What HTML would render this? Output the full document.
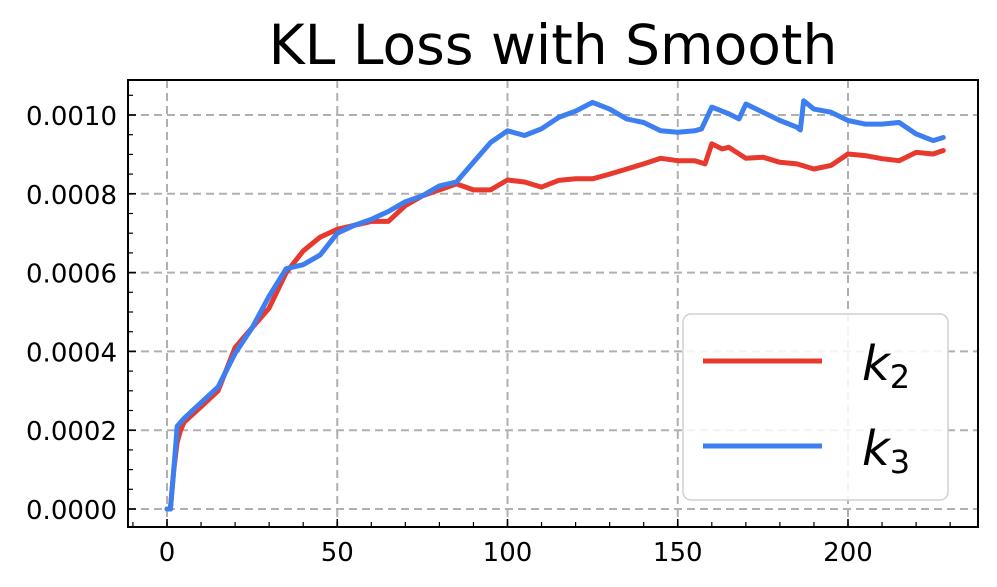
<!DOCTYPE html>
<html><head><meta charset="utf-8"><style>
body{margin:0;background:#fff;}
svg{display:block;font-family:"DejaVu Sans","Liberation Sans",sans-serif;}
</style></head><body>
<svg id="chart" width="997" height="587">
<text x="553" y="64" text-anchor="middle" font-size="55">KL Loss with Smooth</text>
<g id="grid"></g>
<g id="series"></g>
<rect x="128" y="80" width="850" height="447" fill="none" stroke="#000" stroke-width="2"/>
<g id="axes"></g>
<g>
<rect x="683" y="314" width="265" height="186" rx="8" fill="#fff" fill-opacity="0.85" stroke="#d0d0d0" stroke-width="1.5"/>
<line x1="703" y1="361" x2="822" y2="361" stroke="#e8392e" stroke-width="5"/>
<text x="862" y="380" font-size="48" font-style="italic">k<tspan font-style="normal" font-size="32" dy="8">2</tspan></text>
<line x1="703" y1="446" x2="822" y2="446" stroke="#3d7ef0" stroke-width="5"/>
<text x="862" y="465" font-size="48" font-style="italic">k<tspan font-style="normal" font-size="32" dy="8">3</tspan></text>
</g>
</svg>
<script>
const xTicks=[0,50,100,150,200];
const yTicks=[0,0.0002,0.0004,0.0006,0.0008,0.0010];
const yTickLabels=["0.0000","0.0002","0.0004","0.0006","0.0008","0.0010"];
const k2X=[0,1,2,3,4,5,10,15,20,25,30,35,40,45,50,55,60,65,70,75,80,85,90,95,100,105,110,115,120,125,130,135,140,145,150,155,158,160,163,165,170,175,180,185,190,195,200,205,210,215,220,225,228];
const k2Y=[0,0,1.0,1.7,2.0,2.2,2.6,3.0,4.1,4.6,5.1,6.0,6.55,6.9,7.1,7.2,7.3,7.3,7.7,7.95,8.1,8.25,8.1,8.1,8.35,8.3,8.17,8.34,8.38,8.38,8.5,8.63,8.76,8.9,8.84,8.84,8.76,9.27,9.14,9.18,8.9,8.93,8.8,8.76,8.63,8.72,9.01,8.97,8.89,8.84,9.05,9.01,9.1];
const k3X=[0,1,2,3,5,10,15,20,25,30,35,40,45,50,55,60,65,70,75,80,85,90,95,100,105,110,115,120,125,130,135,140,145,150,155,157,160,165,168,170,175,180,185,186,187,190,195,200,205,210,215,220,225,228];
const k3Y=[0,0,1.0,2.1,2.3,2.7,3.1,3.95,4.6,5.4,6.1,6.2,6.45,7.0,7.2,7.35,7.55,7.8,7.95,8.2,8.3,8.8,9.3,9.6,9.48,9.65,9.94,10.1,10.32,10.15,9.9,9.81,9.6,9.56,9.6,9.65,10.2,10.03,9.9,10.28,10.07,9.86,9.69,9.62,10.36,10.15,10.07,9.86,9.77,9.77,9.81,9.52,9.35,9.43];
const NS="http://www.w3.org/2000/svg";
function sx(v){return 167+v*3.405;}
function sy(v){return 509-v*394000;}
function mk(tag,attrs,parent){const e=document.createElementNS(NS,tag);for(const k in attrs)e.setAttribute(k,attrs[k]);parent.appendChild(e);return e;}
const grid=document.getElementById('grid'),axes=document.getElementById('axes'),series=document.getElementById('series');
xTicks.forEach((t,i)=>{
 const g=mk('line',{x1:sx(t),x2:sx(t),y1:80,y2:527,stroke:'#b0b0b0','stroke-width':2,'stroke-dasharray':'8,5'},grid);
 
 
 const tk=mk('line',{x1:sx(t),x2:sx(t),y1:527,y2:519,stroke:'#000','stroke-width':1.6},axes);
 
 
 const lb=mk('text',{x:sx(t),y:561,'text-anchor':'middle','font-size':26},axes);
 lb.textContent=String(t);
 
 
});
for(let v=-10;v<=240;v+=10){if(v%50===0)continue;const x=sx(v);if(x<129||x>977)continue;
 const m=mk('line',{x1:x,x2:x,y1:527,y2:522,stroke:'#000','stroke-width':1.2},axes);
 
 }
yTicks.forEach((t,i)=>{
 const g=mk('line',{x1:128,x2:978,y1:sy(t),y2:sy(t),stroke:'#b0b0b0','stroke-width':2,'stroke-dasharray':'8,5'},grid);
 
 
 const tk=mk('line',{x1:128,x2:136,y1:sy(t),y2:sy(t),stroke:'#000','stroke-width':1.6},axes);
 
 
 const lb=mk('text',{x:117,y:sy(t)+10,'text-anchor':'end','font-size':26},axes);
 lb.textContent=yTickLabels[i];
 
 
});
for(let k=-1;k<=22;k++){if(k%4===0)continue;const y=sy(k*0.00005);if(y<81||y>526)continue;
 const m=mk('line',{x1:128,x2:133,y1:y,y2:y,stroke:'#000','stroke-width':1.2},axes);
 
 }
function drawLine(xs,ys,color,name){
 const d=xs.map((x,i)=>(i?'L':'M')+sx(x).toFixed(1)+','+sy(ys[i]*1e-4).toFixed(1)).join(' ');
 const p=mk('path',{d:d,fill:'none',stroke:color,'stroke-width':5,'stroke-linejoin':'round','stroke-linecap':'round'},series);
 
 
}
drawLine(k2X,k2Y,'#e8392e','k2-line');
drawLine(k3X,k3Y,'#3d7ef0','k3-line');
</script>
</body></html>
